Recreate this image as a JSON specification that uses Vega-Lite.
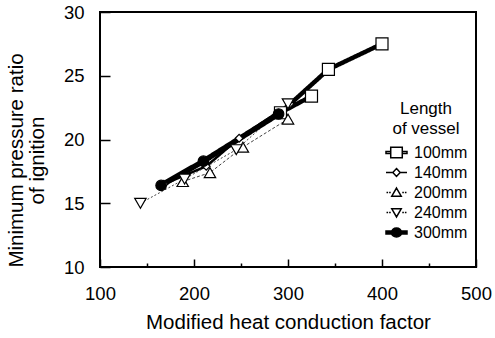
{
  "$schema": "https://vega.github.io/schema/vega-lite/v6.json",
  "width": 376,
  "height": 255,
  "autosize": "none",
  "padding": {"left": 100, "top": 12, "right": 19, "bottom": 71},
  "config": {
    "view": {"stroke": "black", "strokeWidth": 2},
    "font": "Liberation Sans",
    "axis": {"labelColor": "black", "titleColor": "black", "tickColor": "black", "titleFontWeight": "normal", "domain": false, "grid": false, "labelFlush": false, "labelOverlap": false}
  },
  "data": {
    "values": [
      {"len": "100mm", "i": 1, "factor": 325, "ratio": 23.4},
      {"len": "100mm", "i": 2, "factor": 292, "ratio": 22.1},
      {"len": "100mm", "i": 3, "factor": 343, "ratio": 25.5},
      {"len": "100mm", "i": 4, "factor": 400, "ratio": 27.5},
      {"len": "140mm", "i": 1, "factor": 168, "ratio": 16.5},
      {"len": "140mm", "i": 2, "factor": 213, "ratio": 17.9},
      {"len": "140mm", "i": 3, "factor": 248, "ratio": 20.1},
      {"len": "140mm", "i": 4, "factor": 302, "ratio": 22.8},
      {"len": "200mm", "i": 1, "factor": 188, "ratio": 16.7},
      {"len": "200mm", "i": 2, "factor": 217, "ratio": 17.4},
      {"len": "200mm", "i": 3, "factor": 252, "ratio": 19.4},
      {"len": "200mm", "i": 4, "factor": 300, "ratio": 21.6},
      {"len": "240mm", "i": 1, "factor": 143, "ratio": 15.0},
      {"len": "240mm", "i": 2, "factor": 190, "ratio": 16.9},
      {"len": "240mm", "i": 3, "factor": 245, "ratio": 19.2},
      {"len": "240mm", "i": 4, "factor": 300, "ratio": 22.8},
      {"len": "300mm", "i": 1, "factor": 165, "ratio": 16.4},
      {"len": "300mm", "i": 2, "factor": 210, "ratio": 18.3},
      {"len": "300mm", "i": 3, "factor": 290, "ratio": 22.0}
    ]
  },
  "encoding": {
    "x": {
      "field": "factor", "type": "quantitative",
      "scale": {"domain": [100, 500], "nice": false, "zero": false},
      "axis": {
        "title": "Modified heat conduction factor",
        "values": [100, 150, 200, 250, 300, 350, 400, 450, 500],
        "labelExpr": "datum.value % 100 === 0 ? datum.label : ''",
        "tickSize": {"condition": {"test": "datum.value % 100 === 0", "value": -8}, "value": -4},
        "tickWidth": 1.5,
        "labelFontSize": 18.5,
        "labelPadding": 25,
        "titleFontSize": 20.5,
        "titleY": 55,
        "titleBaseline": "middle"
      }
    },
    "y": {
      "field": "ratio", "type": "quantitative",
      "scale": {"domain": [10, 30], "nice": false, "zero": false},
      "axis": {
        "title": ["Minimum pressure ratio", "of ignition"],
        "values": [10, 15, 20, 25, 30],
        "tickSize": -10,
        "tickWidth": 1.5,
        "labelFontSize": 18.5,
        "labelPadding": 26,
        "titleFontSize": 20.5,
        "titleLineHeight": 21,
        "titleX": -84,
        "titleY": 148,
        "titleAngle": -90,
        "titleAlign": "center",
        "titleBaseline": "middle"
      }
    }
  },
  "layer": [
    {
      "mark": {"type": "line"},
      "encoding": {
        "detail": {"field": "len", "type": "nominal"},
        "order": {"field": "i", "type": "quantitative"},
        "color": {"field": "len", "type": "nominal", "legend": null,
          "scale": {"domain": ["300mm", "240mm", "200mm", "140mm", "100mm"], "range": ["black", "#444444", "#444444", "black", "black"]}},
        "strokeWidth": {"field": "len", "type": "nominal", "legend": null,
          "scale": {"type": "ordinal", "domain": ["300mm", "240mm", "200mm", "140mm", "100mm"], "range": [5.5, 1, 1, 2.5, 4.5]}},
        "strokeDash": {"field": "len", "type": "nominal", "legend": null,
          "scale": {"domain": ["300mm", "240mm", "200mm", "140mm", "100mm"], "range": [[1, 0], [2, 2], [3, 2], [1, 0], [1, 0]]}}
      }
    },
    {
      "mark": {
        "type": "point",
        "filled": true,
        "stroke": "black",
        "opacity": 1,
        "strokeWidth": {"expr": "datum.value === '100mm' ? 2 : datum.value === '140mm' ? 1.8 : datum.value === '300mm' ? 1.5 : datum.value ? 1 : 1.2"},
        "shape": {"expr": "datum.value === '100mm' ? 'M-1,-0.09H-0.55V0.09H-1Z M0.55,-0.09H1V0.09H0.55Z M-0.55,-0.5H0.55V0.5H-0.55Z' : datum.value === '140mm' ? 'M-1,0H-0.35 M0.35,0H1 M0,-0.38L0.35,0L0,0.38L-0.35,0Z' : datum.value === '200mm' ? 'M-0.95,0H-0.8 M-0.7,0H-0.55 M0.55,0H0.7 M0.8,0H0.95 M0,-0.42L0.45,0.35H-0.45Z' : datum.value === '240mm' ? 'M-0.95,0H-0.8 M-0.7,0H-0.55 M0.55,0H0.7 M0.8,0H0.95 M-0.45,-0.35H0.45L0,0.42Z' : 'M-1,-0.15H-0.4V0.15H-1Z M0.4,-0.15H1V0.15H0.4Z M-0.48,0A0.48,0.42 0 1,0 0.48,0A0.48,0.42 0 1,0 -0.48,0Z'"}
      },
      "encoding": {
        "shape": {"field": "len", "type": "nominal", "legend": null,
          "scale": {"domain": ["300mm", "240mm", "200mm", "140mm", "100mm"], "range": ["circle", "triangle-down", "triangle-up", "diamond", "square"]}},
        "fill": {"field": "len", "type": "nominal",
          "scale": {"domain": ["100mm", "140mm", "200mm", "240mm", "300mm"], "range": ["white", "white", "white", "white", "black"]},
          "legend": {
            "title": ["Length", "of vessel"],
            "orient": "none",
            "legendX": 285,
            "legendY": 89,
            "padding": 0,
            "symbolSize": 441,
            "labelFontSize": 16,
            "labelColor": "black",
            "labelOffset": 6,
            "rowPadding": 0,
            "titleFontSize": 17,
            "titleFontWeight": "normal",
            "titleColor": "black",
            "titleLineHeight": 20,
            "titleAnchor": "middle",
            "titleAlign": "center",
            "titlePadding": 3,
            "symbolStrokeColor": "black"
          }
        },
        "size": {"field": "len", "type": "nominal", "legend": null,
          "scale": {"type": "ordinal", "domain": ["300mm", "240mm", "200mm", "140mm", "100mm"], "range": [110, 130, 130, 60, 144]}}
      }
    }
  ]
}
